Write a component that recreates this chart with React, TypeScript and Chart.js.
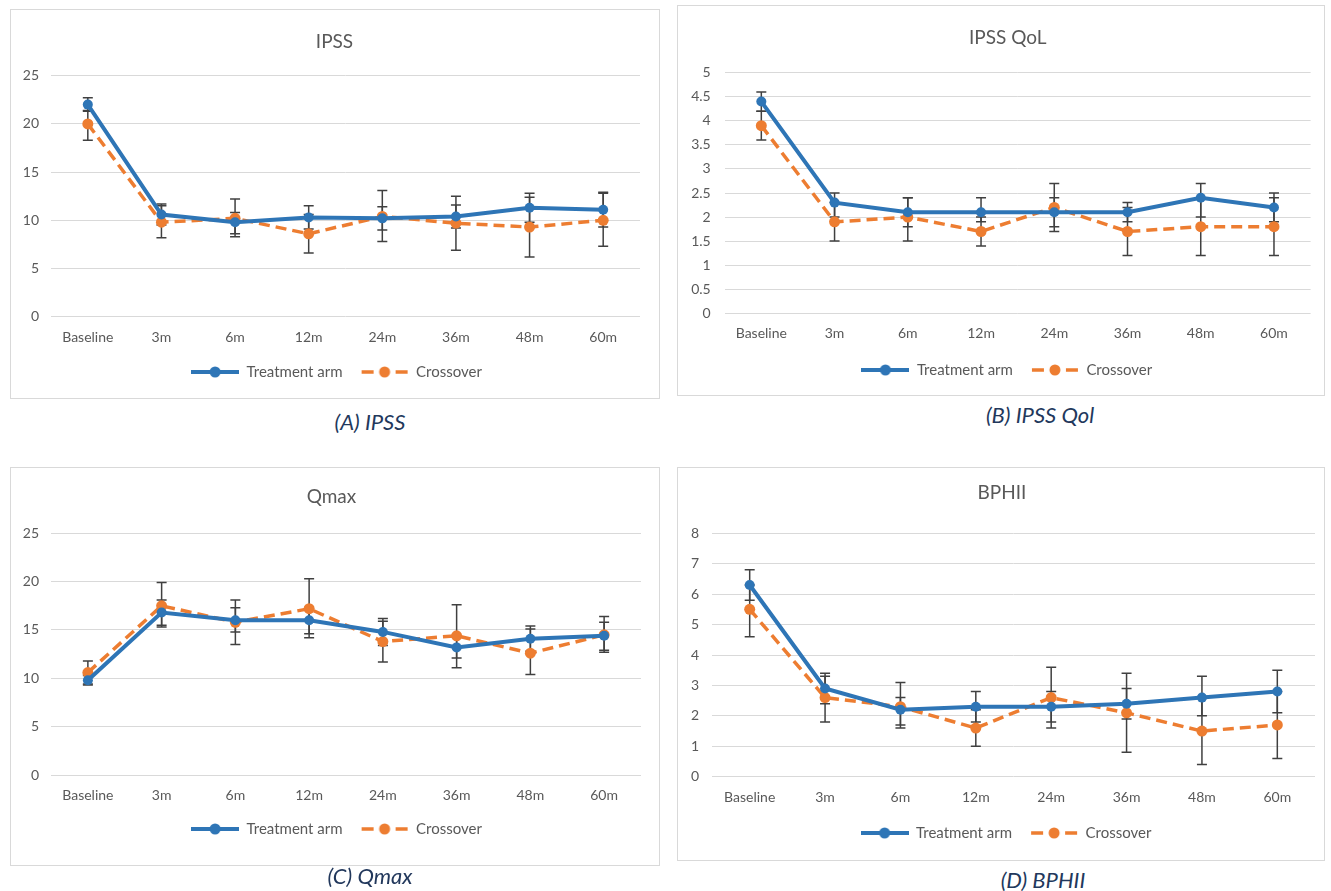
import React, { useEffect, useRef } from "react";
import { Chart, registerables } from "chart.js";

Chart.register(...registerables);

// ---------- DATA ----------
const categories = ["Baseline", "3m", "6m", "12m", "24m", "36m", "48m", "60m"];
const seriesNames = ["Treatment arm", "Crossover"];

// (A) IPSS
const ipssTreat = [22.0, 10.6, 9.8, 10.3, 10.2, 10.4, 11.3, 11.1];
const ipssTreatHigh = [22.7, 11.7, 10.8, 11.5, 11.4, 11.6, 12.8, 12.9];
const ipssTreatLow = [21.3, 9.5, 8.6, 9.1, 9.0, 9.2, 9.8, 9.3];
const ipssCross = [20.0, 9.8, 10.2, 8.6, 10.4, 9.7, 9.3, 10.0];
const ipssCrossHigh = [21.4, 11.5, 12.2, 10.6, 13.1, 12.5, 12.4, 12.8];
const ipssCrossLow = [18.3, 8.2, 8.3, 6.6, 7.8, 6.9, 6.2, 7.3];

// (B) IPSS QoL
const qolTreat = [4.4, 2.3, 2.1, 2.1, 2.1, 2.1, 2.4, 2.2];
const qolTreatHigh = [4.6, 2.5, 2.4, 2.4, 2.4, 2.3, 2.7, 2.5];
const qolTreatLow = [4.2, 2.0, 1.8, 1.9, 1.8, 1.9, 2.0, 1.9];
const qolCross = [3.9, 1.9, 2.0, 1.7, 2.2, 1.7, 1.8, 1.8];
const qolCrossHigh = [4.2, 2.3, 2.4, 2.0, 2.7, 2.2, 2.4, 2.4];
const qolCrossLow = [3.6, 1.5, 1.5, 1.4, 1.7, 1.2, 1.2, 1.2];

// (C) Qmax
const qmaxTreat = [9.8, 16.8, 16.0, 16.0, 14.8, 13.2, 14.1, 14.4];
const qmaxTreatHigh = [10.3, 18.1, 17.3, 17.2, 16.2, 14.3, 15.4, 15.8];
const qmaxTreatLow = [9.3, 15.5, 14.8, 14.6, 13.4, 12.1, 12.8, 12.9];
const qmaxCross = [10.6, 17.5, 15.8, 17.2, 13.8, 14.4, 12.6, 14.5];
const qmaxCrossHigh = [11.8, 19.9, 18.1, 20.3, 15.9, 17.6, 15.1, 16.4];
const qmaxCrossLow = [9.4, 15.3, 13.5, 14.2, 11.7, 11.1, 10.4, 12.7];

// (D) BPHII
const bphiiTreat = [6.3, 2.9, 2.2, 2.3, 2.3, 2.4, 2.6, 2.8];
const bphiiTreatHigh = [6.8, 3.4, 2.6, 2.8, 2.8, 2.9, 3.3, 3.5];
const bphiiTreatLow = [5.8, 2.4, 1.7, 1.8, 1.8, 1.9, 2.0, 2.1];
const bphiiCross = [5.5, 2.6, 2.3, 1.6, 2.6, 2.1, 1.5, 1.7];
const bphiiCrossHigh = [6.3, 3.3, 3.1, 2.2, 3.6, 3.4, 2.6, 2.8];
const bphiiCrossLow = [4.6, 1.8, 1.6, 1.0, 1.6, 0.8, 0.4, 0.6];

// ---------- STYLE ----------
const FONT = "Lato, 'Open Sans', 'Noto Sans', sans-serif";
const BLUE = "#2E75B6";
const ORANGE = "#ED7D31";
const TEXT = "#595959";
const GRID = "#d9d9d9";
const ERR = "#404040";
const CAPTION = "#22385c";
const LEGEND_PAD = 18;

type Panel = {
  title: string;
  caption: string;
  treat: number[];
  treatLow: number[];
  treatHigh: number[];
  cross: number[];
  crossLow: number[];
  crossHigh: number[];
  yMax: number;
  step: number;
  rect: { left: number; top: number; width: number; height: number };
  captionPos: { cx: number; cy: number };
  yW: number;
  yPad: number;
  padRight: number;
  padBottom: number;
  titleTop: number;
  titleBottom: number;
  xPad: number;
  xH: number;
  titleDx: number;
  legendDx: number;
};

const panels: Panel[] = [
  {
    title: "IPSS", caption: "(A) IPSS",
    treat: ipssTreat, treatLow: ipssTreatLow, treatHigh: ipssTreatHigh,
    cross: ipssCross, crossLow: ipssCrossLow, crossHigh: ipssCrossHigh,
    yMax: 25, step: 5,
    rect: { left: 10, top: 9, width: 650, height: 390 },
    captionPos: { cx: 370, cy: 422 },
    yW: 41, yPad: 12, padRight: 20, padBottom: 9.5,
    titleTop: 21.6, titleBottom: 22.3, xPad: 12.5, xH: 29.8,
    titleDx: 9.5, legendDx: 11.5,
  },
  {
    title: "IPSS QoL", caption: "(B) IPSS Qol",
    treat: qolTreat, treatLow: qolTreatLow, treatHigh: qolTreatHigh,
    cross: qolCross, crossLow: qolCrossLow, crossHigh: qolCrossHigh,
    yMax: 5, step: 0.5,
    rect: { left: 677, top: 5, width: 648, height: 391 },
    captionPos: { cx: 1040, cy: 415 },
    yW: 47.7, yPad: 14, padRight: 14.4, padBottom: 8.5,
    titleTop: 21.6, titleBottom: 23.3, xPad: 11.5, xH: 31.2,
    titleDx: 14, legendDx: 13,
  },
  {
    title: "Qmax", caption: "(C) Qmax",
    treat: qmaxTreat, treatLow: qmaxTreatLow, treatHigh: qmaxTreatHigh,
    cross: qmaxCross, crossLow: qmaxCrossLow, crossHigh: qmaxCrossHigh,
    yMax: 25, step: 5,
    rect: { left: 10, top: 467, width: 650, height: 399 },
    captionPos: { cx: 370, cy: 876 },
    yW: 41, yPad: 12, padRight: 19, padBottom: 19.5,
    titleTop: 18.6, titleBottom: 24.9, xPad: 12.2, xH: 28.5,
    titleDx: 6, legendDx: 11,
  },
  {
    title: "BPHII", caption: "(D) BPHII",
    treat: bphiiTreat, treatLow: bphiiTreatLow, treatHigh: bphiiTreatHigh,
    cross: bphiiCross, crossLow: bphiiCrossLow, crossHigh: bphiiCrossHigh,
    yMax: 8, step: 1,
    rect: { left: 677, top: 467, width: 648, height: 394 },
    captionPos: { cx: 1043, cy: 880 },
    yW: 35, yPad: 13, padRight: 10, padBottom: 10.5,
    titleTop: 14.6, titleBottom: 28.9, xPad: 11.9, xH: 30.8,
    titleDx: 6, legendDx: 10,
  },
];

function makeLegendIcon(color: string, dashed: boolean): HTMLCanvasElement {
  const c = document.createElement("canvas");
  c.width = 48;
  c.height = 14;
  const g = c.getContext("2d")!;
  g.strokeStyle = color;
  g.fillStyle = color;
  g.lineWidth = dashed ? 3.5 : 4;
  g.beginPath();
  if (dashed) {
    g.moveTo(1, 7); g.lineTo(13, 7);
    g.moveTo(35, 7); g.lineTo(47, 7);
  } else {
    g.moveTo(0, 7); g.lineTo(48, 7);
  }
  g.stroke();
  g.beginPath();
  g.arc(24, 7, 5.5, 0, Math.PI * 2);
  g.fill();
  return c;
}

function makeErrorBarPlugin(bars: { low: number[]; high: number[] }[]) {
  return {
    id: "errorBars",
    beforeDatasetsDraw(chart: any) {
      const { ctx } = chart;
      const x = chart.scales.x;
      const y = chart.scales.y;
      const cap = 5;
      ctx.save();
      ctx.strokeStyle = ERR;
      ctx.lineWidth = 1.5;
      bars.forEach(({ low, high }) => {
        low.forEach((lo, i) => {
          const px = x.getPixelForValue(i);
          const yl = y.getPixelForValue(lo);
          const yh = y.getPixelForValue(high[i]);
          ctx.beginPath();
          ctx.moveTo(px, yl); ctx.lineTo(px, yh);
          ctx.moveTo(px - cap, yl); ctx.lineTo(px + cap, yl);
          ctx.moveTo(px - cap, yh); ctx.lineTo(px + cap, yh);
          ctx.stroke();
        });
      });
      ctx.restore();
    },
  };
}

function makeShiftPlugin(titleDx: number, legendDx: number) {
  return {
    id: "boxShift",
    afterLayout(chart: any) {
      const t = chart.titleBlock;
      if (t) { t.left += titleDx; t.right += titleDx; }
      const l = chart.legend;
      if (l) { l.left += legendDx; l.right += legendDx; }
    },
  };
}

function PanelChart({ p }: { p: Panel }) {
  const ref = useRef<HTMLCanvasElement | null>(null);
  useEffect(() => {
    if (!ref.current) return;
    const icons = [makeLegendIcon(BLUE, false), makeLegendIcon(ORANGE, true)];
    const chart = new Chart(ref.current, {
      type: "line",
      data: {
        labels: categories,
        datasets: [
          {
            label: seriesNames[0],
            data: p.treat,
            borderColor: BLUE,
            backgroundColor: BLUE,
            borderWidth: 4,
            pointRadius: 5,
            pointBackgroundColor: BLUE,
            pointBorderWidth: 0,
            tension: 0,
          },
          {
            label: seriesNames[1],
            data: p.cross,
            borderColor: ORANGE,
            backgroundColor: ORANGE,
            borderWidth: 3.5,
            borderDash: [11, 6],
            pointRadius: 5.5,
            pointBackgroundColor: ORANGE,
            pointBorderWidth: 0,
            tension: 0,
          },
        ],
      },
      options: {
        responsive: false,
        animation: false,
        layout: { padding: { top: 0, left: 0, right: p.padRight, bottom: p.padBottom } },
        plugins: {
          title: {
            display: true,
            text: p.title,
            color: TEXT,
            font: { family: FONT, size: 19, weight: "normal" },
            padding: { top: p.titleTop, bottom: p.titleBottom },
          },
          legend: {
            position: "bottom",
            labels: {
              usePointStyle: true,
              pointStyleWidth: 48,
              padding: LEGEND_PAD,
              color: TEXT,
              font: { family: FONT, size: 15 },
              generateLabels: (c: any) => {
                const items = (Chart.defaults.plugins.legend.labels as any).generateLabels(c);
                return items.map((it: any, i: number) => ({ ...it, pointStyle: icons[i] }));
              },
            },
          },
          tooltip: { enabled: false },
        },
        scales: {
          x: {
            offset: true,
            grid: { display: false, drawTicks: false, offset: true },
            border: { display: false },
            ticks: {
              color: TEXT,
              font: { family: FONT, size: 14 },
              padding: p.xPad,
              maxRotation: 0,
              autoSkip: false,
            },
            afterFit: (s: any) => { s.height = p.xH; },
          },
          y: {
            min: 0,
            max: p.yMax,
            ticks: {
              stepSize: p.step,
              color: TEXT,
              font: { family: FONT, size: 14 },
              padding: p.yPad,
              callback: (v: any) => String(Math.round(Number(v) * 100) / 100),
            },
            grid: { color: GRID, drawTicks: false, lineWidth: 1 },
            border: { display: false },
            afterFit: (s: any) => { s.width = p.yW; },
          },
        },
      } as any,
      plugins: [
        makeErrorBarPlugin([
          { low: p.treatLow, high: p.treatHigh },
          { low: p.crossLow, high: p.crossHigh },
        ]),
        makeShiftPlugin(p.titleDx, p.legendDx),
      ],
    });
    return () => chart.destroy();
  }, [p]);

  const { left, top, width, height } = p.rect;
  return (
    <>
      <canvas
        ref={ref}
        width={width}
        height={height}
        style={{ position: "absolute", left, top, width, height }}
      />
      <div
        style={{
          position: "absolute",
          left,
          top,
          width,
          height,
          boxSizing: "border-box",
          border: "1px solid #d9d9d9",
          pointerEvents: "none",
        }}
      />
      <div
        style={{
          position: "absolute",
          left: p.captionPos.cx - 150,
          top: p.captionPos.cy - 13,
          width: 300,
          height: 26,
          lineHeight: "26px",
          textAlign: "center",
          fontFamily: FONT,
          fontStyle: "italic",
          fontSize: 22,
          color: CAPTION,
        }}
      >
        {p.caption}
      </div>
    </>
  );
}

export default function App() {
  return (
    <div
      style={{
        position: "absolute",
        left: 0,
        top: 0,
        width: 1331,
        height: 891,
        background: "#ffffff",
        overflow: "hidden",
      }}
    >
      {panels.map((p) => (
        <PanelChart key={p.title} p={p} />
      ))}
    </div>
  );
}
